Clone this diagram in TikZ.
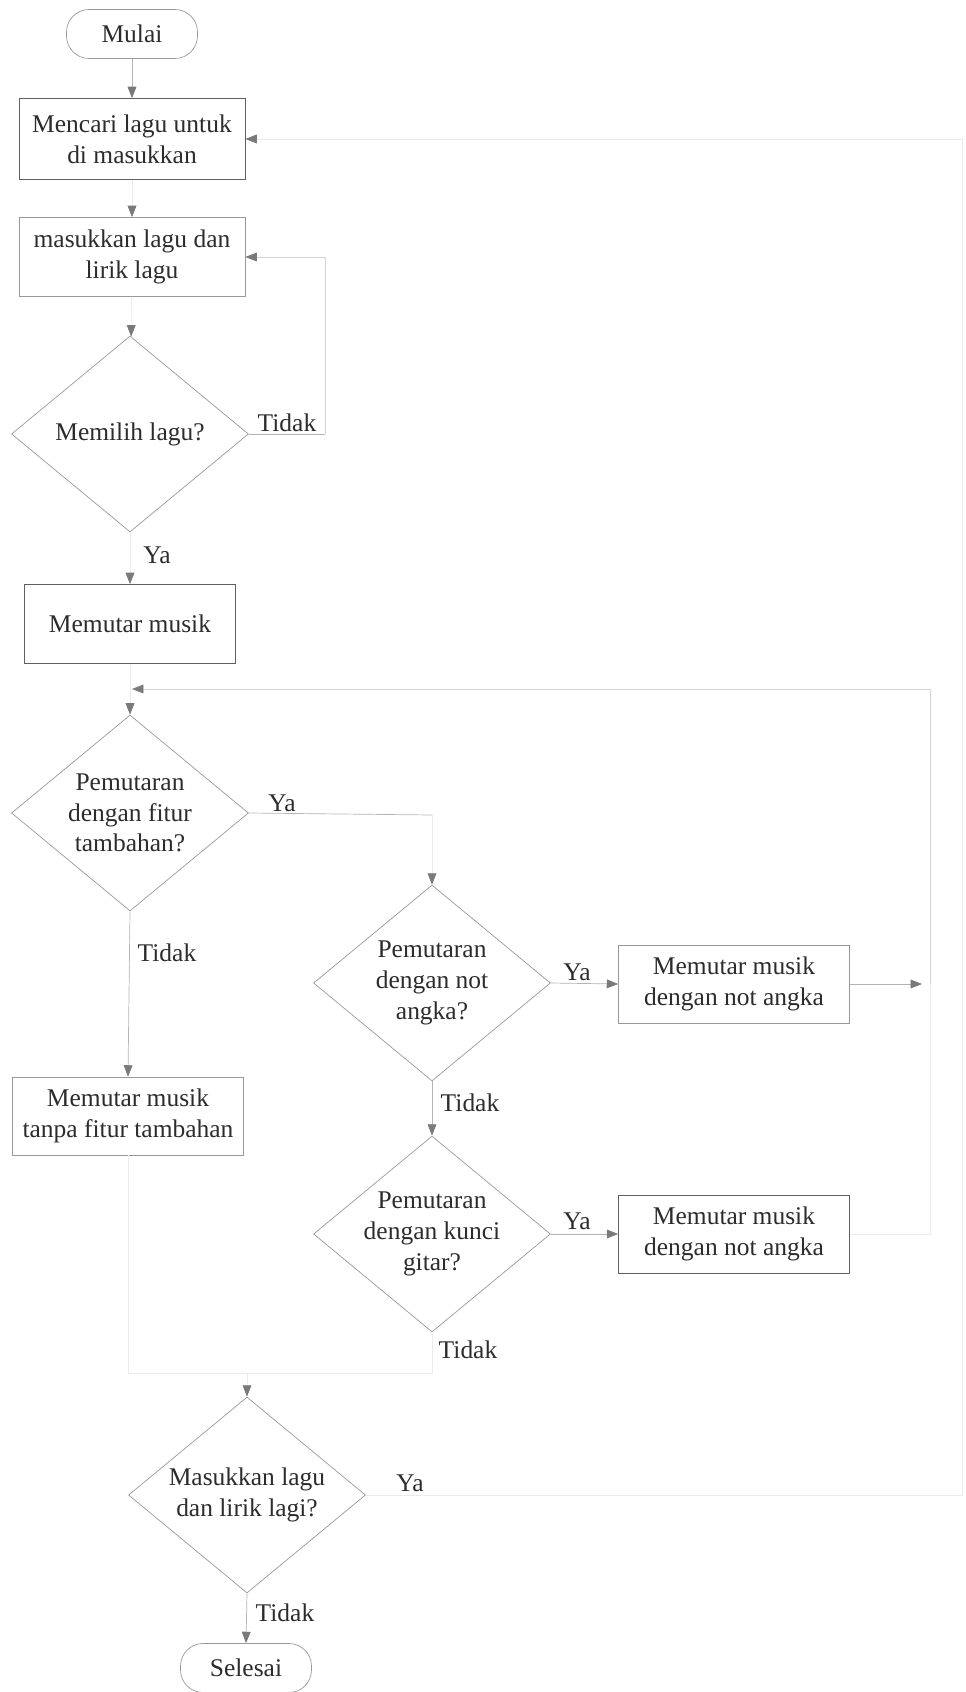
\documentclass[tikz,border=0pt]{standalone}
\usepackage{fontspec}
\setmainfont{Liberation Serif}
\usetikzlibrary{shapes.geometric, arrows.meta}
\definecolor{fcink}{HTML}{2C2C2C}
\definecolor{fcbox}{HTML}{606060}
\definecolor{fcdia}{HTML}{999999}
\definecolor{fctip}{HTML}{7A7A7A}
\definecolor{fcline}{HTML}{B4B4B4}
\definecolor{fcmid}{HTML}{D4D4D4}
\definecolor{fcfaint}{HTML}{EBEBEB}

\begin{document}
\begin{tikzpicture}[x=0.02cm, y=-0.02cm,
    font=\fontsize{14.5}{17.5}\selectfont, text=fcink,
    term/.style={draw=fcdia, rounded corners=0.45cm, minimum width=2.62cm,
                 minimum height=0.98cm, inner sep=0pt},
    proc/.style={draw=fcbox, align=center, minimum width=4.52cm,
                 minimum height=1.58cm, inner sep=0pt},
    tanya/.style={shape=diamond, draw=fcdia, minimum width=4.74cm,
                  minimum height=3.92cm, inner sep=0pt,
                  label={[align=center, text=fcink]center:#1}},
    arr/.style={-{Triangle[length=6.5pt, width=5pt, color=fctip]}}]
    \useasboundingbox (0,0) rectangle (965,1692);
    \node[term] (mulai) at (132,34) {Mulai};
    \node[proc, minimum height=1.62cm] (cari) at (132,139) {Mencari lagu untuk\\di masukkan};
    \node[proc, draw=fcdia] (masuk) at (132,257) {masukkan lagu dan\\lirik lagu};
    \node[tanya={Memilih lagu?}] (pilih) at (130,434) {};
    \node[proc, minimum width=4.22cm] (putar) at (130,624) {Memutar musik};
    \node[tanya={Pemutaran\\dengan fitur\\tambahan?}] (fitur) at (130,813) {};
    \node[proc, draw=fcdia, minimum width=4.62cm, minimum height=1.56cm] (tanpa) at (128,1116)
      {Memutar musik\\tanpa fitur tambahan};
    \node[tanya={Pemutaran\\dengan not\\angka?}] (angka) at (432,983) {};
    \node[proc, draw=fcdia, minimum width=4.62cm, minimum height=1.56cm] (notangka) at (734,984)
      {Memutar musik\\dengan not angka};
    \node[tanya={Pemutaran\\dengan kunci\\gitar?}] (kunci) at (432,1234) {};
    \node[proc, minimum width=4.62cm, minimum height=1.56cm] (gitar) at (734,1234)
      {Memutar musik\\dengan not angka};
    \node[tanya={Masukkan lagu\\dan lirik lagi?}] (ulang) at (247,1495) {};
    \node[term] (selesai) at (246,1668) {Selesai};

    \coordinate (tdk) at (325,434);
    \coordinate (belok) at (432,815);
    \coordinate (ujung) at (922,984);
    \coordinate (kanan1) at (930,984);
    \coordinate (kanan2) at (930,1234);
    \coordinate (balik) at (132,689);
    \coordinate (gabung) at (247,1373);
    \coordinate (pinggir) at (962,1495);

    \draw[fcline, arr] (mulai) -- (cari);
    \draw[fcfaint, arr] (cari) -- (masuk);
    \draw[fcfaint, arr] (masuk) -- (pilih);
    \draw[fcline] (pilih.east) -- (tdk);
    \draw[fcmid, arr] (tdk) |- (masuk.east);
    \draw[fcfaint, arr] (pilih.south) -- (putar);
    \draw[fcfaint, arr] (putar) -- (fitur);
    \draw[fcline] (fitur.east) -- (belok);
    \draw[fcfaint, arr] (belok) -- (angka.north);
    \draw[fcline, arr] (fitur.south) -- (tanpa.north);
    \draw[fcline, arr] (angka.east) -- (notangka.west);
    \draw[fcline, arr] (notangka.east) -- (ujung);
    \draw[fcmid, arr] (kanan1) |- (balik);
    \draw[fcline, arr] (angka.south) -- (kunci.north);
    \draw[fcline, arr] (kunci.east) -- (gitar.west);
    \draw[fcfaint] (gitar.east) -- (kanan2) -- (kanan1);
    \draw[fcfaint] (kunci.south) |- (gabung);
    \draw[fcfaint] (tanpa.south) |- (gabung);
    \draw[fcfaint, arr] (gabung) -- (ulang.north);
    \draw[fcfaint, arr] (ulang.east) -- (pinggir) |- (cari.east);
    \draw[fcline, arr] (ulang.south) -- (selesai.north);

    \node (tidak1) at (287,423) {Tidak};
    \node (ya1) at (157,555) {Ya};
    \node (ya2) at (282,803) {Ya};
    \node (tidak2) at (167,953) {Tidak};
    \node (ya3) at (577,972) {Ya};
    \node (tidak3) at (470,1103) {Tidak};
    \node (ya4) at (577,1221) {Ya};
    \node (tidak4) at (468,1350) {Tidak};
    \node (ya5) at (410,1483) {Ya};
    \node (tidak5) at (285,1613) {Tidak};
\end{tikzpicture}
\end{document}
